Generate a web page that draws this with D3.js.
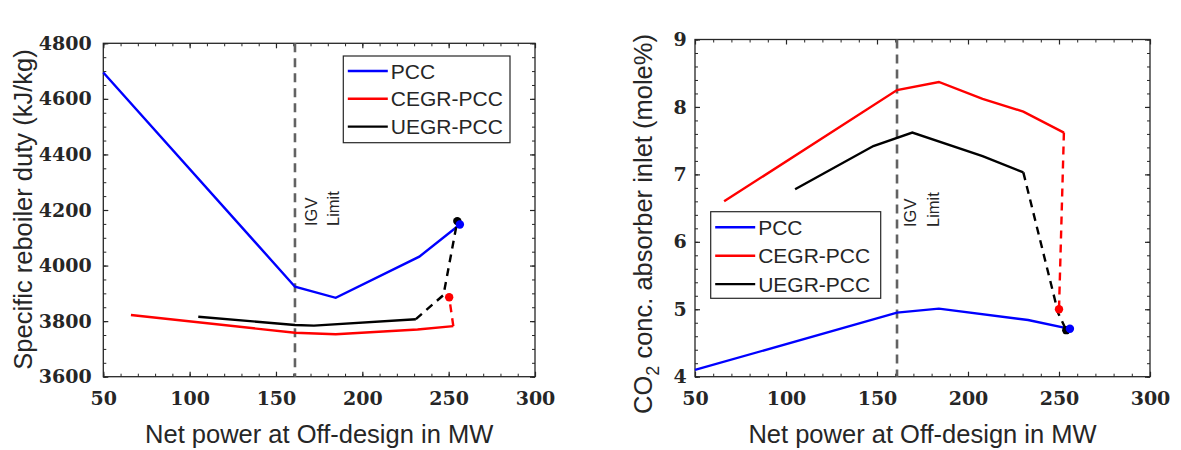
<!DOCTYPE html>
<html>
<head>
<meta charset="utf-8">
<script src="https://cdn.jsdelivr.net/npm/d3@7"></script>
<style>
  body { margin: 0; background: #fff; }
  .tick text { font-family: "DejaVu Serif", serif; font-weight: bold; font-size: 19px; fill: #262626; }
  .lab { font-family: "Liberation Sans", Arial, sans-serif; fill: #262626; }
</style>
</head>
<body>
<svg width="1181" height="450"></svg>
<script>
// x values shared by both panels: net power (MW)
const xTicks = [50, 100, 150, 200, 250, 300];
const igvLimit = 161;

// left panel: specific reboiler duty (kJ/kg)
const dutyTicks = [3600, 3800, 4000, 4200, 4400, 4600, 4800];
const dutyPccX = [50, 161, 184.6, 233, 256.5];
const dutyPccY = [4695, 3924, 3884, 4032, 4148];
const dutyCegrX = [66, 161, 184.6, 232, 252.7];
const dutyCegrY = [3822, 3758, 3753, 3770, 3782];
const dutyCegrDashX = [252.7, 250.3];
const dutyCegrDashY = [3782, 3886];
const dutyUegrX = [105, 161, 172, 231];
const dutyUegrY = [3816, 3786, 3784, 3807];
const dutyUegrDashX = [231, 247, 255];
const dutyUegrDashY = [3807, 3894, 4160];

// right panel: CO2 at absorber inlet (mole%)
const co2Ticks = [4, 5, 6, 7, 8, 9];
const co2PccX = [50, 161, 184, 233, 256];
const co2PccY = [4.1, 4.95, 5.01, 4.84, 4.71];
const co2CegrX = [66, 161, 184, 208, 230.4, 252.7];
const co2CegrY = [6.6, 8.25, 8.37, 8.12, 7.93, 7.62];
const co2CegrDashX = [252.7, 250];
const co2CegrDashY = [7.62, 5.0];
const co2UegrX = [105, 148, 169.4, 208, 230.4];
const co2UegrY = [6.78, 7.42, 7.62, 7.27, 7.03];
const co2UegrDashX = [230.4, 249.6, 254];
const co2UegrDashY = [7.03, 4.94, 4.69];

const seriesNames = ["PCC", "CEGR-PCC", "UEGR-PCC"];
const seriesColors = ["#0000ff", "#ff0000", "#000000"];

const svg = d3.select("svg");
svg.append("rect").attr("width", 1181).attr("height", 450).attr("fill", "#fff");

const zip = (xs, ys) => xs.map((x, i) => [x, ys[i]]);

function drawPanel(p) {
    const x = d3.scaleLinear().domain([50, 300]).range([p.left, p.right]);
    const y = d3.scaleLinear().domain(p.yDomain).range([p.bottom, p.top]);
    const g = svg.append("g");
    const w = p.right - p.left, h = p.bottom - p.top;

    // minor ticks
    const xMinor = d3.range(50, 301, 10);
    const yMinor = d3.range(p.yDomain[0], p.yDomain[1] + p.yMinorStep / 2, p.yMinorStep);
    const axes = [
        [d3.axisBottom(x), `translate(0,${p.bottom})`, xMinor, xTicks, true],
        [d3.axisTop(x), `translate(0,${p.top})`, xMinor, xTicks, false],
        [d3.axisLeft(y), `translate(${p.left},0)`, yMinor, p.yTicks, true],
        [d3.axisRight(y), `translate(${p.right},0)`, yMinor, p.yTicks, false]
    ];
    axes.forEach(([ax, tr, minor, major, lab]) => {
        g.append("g").attr("transform", tr)
            .call(ax.tickValues(minor).tickSize(-3).tickFormat(""))
            .call(s => s.select(".domain").remove())
            .selectAll("line").attr("stroke", "#262626");
        const a = g.append("g").attr("transform", tr)
            .call(ax.tickValues(major).tickSize(-5).tickPadding(lab ? (tr.includes("(0,") ? 15 : p.yPad) : 0)
                .tickFormat(lab ? d3.format("d") : ""))
            .call(s => s.select(".domain").remove());
        a.selectAll("line").attr("stroke", "#262626").attr("stroke-width", 1.2);
    });

    g.append("rect").attr("x", p.left).attr("y", p.top).attr("width", w).attr("height", h)
        .attr("fill", "none").attr("stroke", "#262626").attr("stroke-width", 1.3);

    // IGV limit
    g.append("line").attr("x1", x(igvLimit)).attr("x2", x(igvLimit))
        .attr("y1", p.top).attr("y2", p.bottom)
        .attr("stroke", "#626262").attr("stroke-width", 2.6).attr("stroke-dasharray", "9,6");
    [["IGV", p.igvDx[0]], ["Limit", p.igvDx[1]]].forEach(([t, dx]) => {
        g.append("text").attr("class", "lab")
            .attr("transform", `translate(${x(igvLimit) + dx},${p.igvY}) rotate(-90)`)
            .attr("font-size", 16.5).text(t);
    });

    const line = d3.line().x(d => x(d[0])).y(d => y(d[1]));
    p.solid.forEach((s, i) => {
        g.append("path").datum(s).attr("d", line).attr("fill", "none")
            .attr("stroke", seriesColors[i]).attr("stroke-width", 2.4);
    });
    p.dashed.forEach(([s, ci]) => {
        g.append("path").datum(s).attr("d", line).attr("fill", "none")
            .attr("stroke", seriesColors[ci]).attr("stroke-width", 2.4).attr("stroke-dasharray", "8,6");
    });
    p.dots.forEach(([d, ci]) => {
        g.append("circle").attr("cx", x(d[0])).attr("cy", y(d[1])).attr("r", 4.2)
            .attr("fill", seriesColors[ci]);
    });

    // legend
    const L = p.legend;
    g.append("rect").attr("x", L.x).attr("y", L.y).attr("width", L.w).attr("height", L.h)
        .attr("fill", "#fff").attr("stroke", "#262626").attr("stroke-width", 1.2);
    seriesNames.forEach((n, i) => {
        const yy = L.y + L.first + i * L.step;
        g.append("line").attr("x1", L.x + 4.5).attr("x2", L.x + 44.5).attr("y1", yy).attr("y2", yy)
            .attr("stroke", seriesColors[i]).attr("stroke-width", 2.4);
        g.append("text").attr("class", "lab").attr("x", L.x + 47.5).attr("y", yy + 7.5)
            .attr("font-size", 21).text(n);
    });

    // axis labels
    g.append("text").attr("class", "lab").attr("x", (p.left + p.right) / 2).attr("y", 442.7)
        .attr("text-anchor", "middle").attr("font-size", 25.5).text("Net power at Off-design in MW");
    const yl = g.append("text").attr("class", "lab")
        .attr("transform", `translate(${p.yLabX},${p.yLabY}) rotate(-90)`)
        .attr("text-anchor", "middle").attr("font-size", 25.5);
    p.yLabel(yl);
}

drawPanel({
    left: 103.3, right: 535, top: 43.3, bottom: 376.7,
    yDomain: [3600, 4800], yTicks: dutyTicks, yMinorStep: 50, yPad: 11.6,
    igvDx: [22, 44], igvY: 226,
    solid: [zip(dutyPccX, dutyPccY), zip(dutyCegrX, dutyCegrY), zip(dutyUegrX, dutyUegrY)],
    dashed: [[zip(dutyUegrDashX, dutyUegrDashY), 2], [zip(dutyCegrDashX, dutyCegrDashY), 1]],
    dots: [[[dutyUegrDashX[2], dutyUegrDashY[2]], 2], [[dutyCegrDashX[1], dutyCegrDashY[1]], 1],
           [[dutyPccX[4], dutyPccY[4]], 0]],
    legend: { x: 343.3, y: 56, w: 166.7, h: 86.7, first: 15, step: 27.8 },
    yLabX: 31.7, yLabY: 209.5,
    yLabel: t => t.text("Specific reboiler duty (kJ/kg)")
});

drawPanel({
    left: 695, right: 1150, top: 39.5, bottom: 376.7,
    yDomain: [4, 9], yTicks: co2Ticks, yMinorStep: 0.2, yPad: 8.3,
    igvDx: [19, 42], igvY: 227,
    solid: [zip(co2PccX, co2PccY), zip(co2CegrX, co2CegrY), zip(co2UegrX, co2UegrY)],
    dashed: [[zip(co2UegrDashX, co2UegrDashY), 2], [zip(co2CegrDashX, co2CegrDashY), 1]],
    dots: [[[co2UegrDashX[2], co2UegrDashY[2]], 2], [[co2CegrDashX[1], co2CegrDashY[1]], 1],
           [[co2PccX[4], co2PccY[4]], 0]],
    legend: { x: 710.7, y: 211.7, w: 170, h: 86.6, first: 15.6, step: 28.4 },
    yLabX: 651.5, yLabY: 224,
    yLabel: t => {
        t.append("tspan").text("CO");
        t.append("tspan").attr("font-size", 18).attr("dy", 7).text("2");
        t.append("tspan").attr("dy", -7).text(" conc. absorber inlet (mole%)");
    }
});
</script>
</body>
</html>
